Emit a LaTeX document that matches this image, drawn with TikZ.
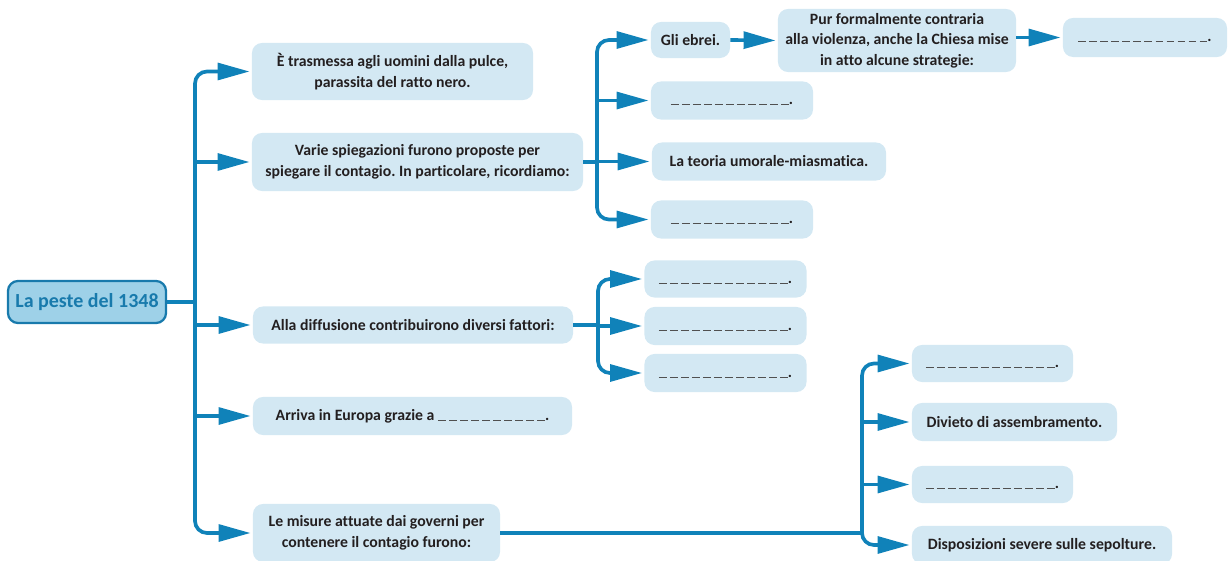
\documentclass[tikz,border=0pt]{standalone}
\usepackage{fontspec}
\setmainfont[Ligatures=NoCommon]{Carlito}
\usetikzlibrary{arrows.meta}
\frenchspacing
\definecolor{blu}{RGB}{16,130,185}
\definecolor{blusc}{RGB}{24,122,172}
\definecolor{celeste}{RGB}{211,232,243}
\definecolor{radice}{RGB}{158,209,232}
\definecolor{testo}{RGB}{35,31,32}
\definecolor{trattino}{RGB}{80,80,80}
% spazio da completare
\newcommand{\lacuna}[1]{\strut\foreach \k in {1,...,#1}{\textcolor{trattino}{\rule[-0.05em]{0.5em}{0.07em}}\hspace{0.2em}}\unskip.}
\tikzset{
  casella/.style={fill=celeste, rounded corners=0.25cm, inner sep=0pt, align=center,
    text=testo, font=\fontsize{11.2pt}{14.5pt}\selectfont\bfseries},
  linea/.style={draw=blu, line width=2.6pt},
  freccia/.style={linea, shorten >=1.5pt, -{Triangle[length=8mm,width=4.2mm]}},
  curva/.style={rounded corners=0.3cm},
}
\begin{document}
\begin{tikzpicture}[x=0.025cm,y=0.025cm]
\useasboundingbox (0,0) rectangle (1228,560);
% radice
\node[casella, fill=radice, draw=blusc, line width=1.6pt, text=blusc,
  font=\fontsize{14.2pt}{16pt}\selectfont\bfseries,
  minimum width=3.95cm, minimum height=1.05cm] (peste) at (87,258) {La peste del 1348};
% primo livello
\node[casella, minimum width=7.025cm, minimum height=1.425cm] (b1) at (392.5,488.5)
  {È trasmessa agli uomini dalla pulce,\\ parassita del ratto nero.};
\node[casella, minimum width=8.275cm, minimum height=1.45cm] (b2) at (417.5,398)
  {Varie spiegazioni furono proposte per\\ spiegare il contagio. In particolare, ricordiamo:};
\node[casella, minimum width=8cm, minimum height=0.925cm] (b3) at (413,235)
  {Alla diffusione contribuirono diversi fattori:};
\node[casella, minimum width=7.975cm, minimum height=0.95cm] (b4) at (412.5,144)
  {Arriva in Europa grazie a \lacuna{10}};
\node[casella, minimum width=6.175cm, minimum height=1.45cm] (b5) at (376.5,27)
  {Le misure attuate dai governi per\\ contenere il contagio furono:};
% spiegazioni
\node[casella, minimum width=1.975cm, minimum height=0.9cm] (s1) at (690.5,520) {Gli ebrei.};
\node[casella, minimum width=5.95cm, minimum height=1.575cm] (p1) at (897,519.5)
  {Pur formalmente contraria\\ alla violenza, anche la Chiesa mise\\ in atto alcune strategie:};
\node[casella, minimum width=4.1cm, minimum height=0.975cm] (z1) at (1145,522.5) {\lacuna{12}};
\node[casella, minimum width=4.05cm, minimum height=0.95cm] (s2) at (732,459.5) {\lacuna{11}};
\node[casella, minimum width=5.85cm, minimum height=0.95cm] (s3) at (769,398.5) {La teoria umorale-miasmatica.};
\node[casella, minimum width=4.05cm, minimum height=0.95cm] (s4) at (732,340.5) {\lacuna{11}};
% fattori
\node[casella, minimum width=4.05cm, minimum height=0.925cm] (f1) at (725.5,281) {\lacuna{12}};
\node[casella, minimum width=4.05cm, minimum height=0.95cm] (f2) at (725.5,234) {\lacuna{12}};
\node[casella, minimum width=4.05cm, minimum height=0.95cm] (f3) at (725.5,187) {\lacuna{12}};
% misure
\node[casella, minimum width=4.025cm, minimum height=0.925cm] (m1) at (992.5,196.5) {\lacuna{12}};
\node[casella, minimum width=5.125cm, minimum height=0.95cm] (m2) at (1014.5,138) {Divieto di assembramento.};
\node[casella, minimum width=4.025cm, minimum height=0.925cm] (m3) at (992.5,75.5) {\lacuna{12}};
\node[casella, minimum width=6.5cm, minimum height=0.95cm] (m4) at (1042,15) {Disposizioni severe sulle sepolture.};
% tronco principale
\coordinate (t0) at (195,258);
\draw[linea] (peste.east) -- (t0);
\draw[freccia, curva] (t0) |- (b1.west);
\draw[freccia] (t0 |- b2.west) -- (b2.west);
\draw[freccia] (t0 |- b3.west) -- (b3.west);
\draw[freccia] (t0 |- b4.west) -- (b4.west);
\draw[freccia, curva] (t0) |- (b5.west);
% spiegazioni
\coordinate (t1) at (597,398);
\draw[linea] (b2.east) -- (t1);
\draw[freccia, curva] (t1) |- (s1.west);
\draw[freccia] (t1 |- s2.west) -- (s2.west);
\draw[freccia] (t1 |- s3.west) -- (s3.west);
\draw[freccia, curva] (t1) |- (s4.west);
\draw[freccia] (s1.east) -- (p1.west);
\draw[freccia] (p1.east |- z1.west) -- (z1.west);
% fattori
\coordinate (t2) at (598,235);
\draw[linea] (b3.east) -- (t2);
\draw[freccia, curva] (t2) |- (f1.west);
\draw[freccia] (t2 |- f2.west) -- (f2.west);
\draw[freccia, curva] (t2) |- (f3.west);
% misure
\coordinate (t3) at (862,27);
\draw[linea] (b5.east) -- (t3);
\draw[freccia, curva] (t3) |- (m1.west);
\draw[freccia] (t3 |- m2.west) -- (m2.west);
\draw[freccia] (t3 |- m3.west) -- (m3.west);
\draw[freccia, curva] (t3) |- (m4.west);
\end{tikzpicture}
\end{document}
